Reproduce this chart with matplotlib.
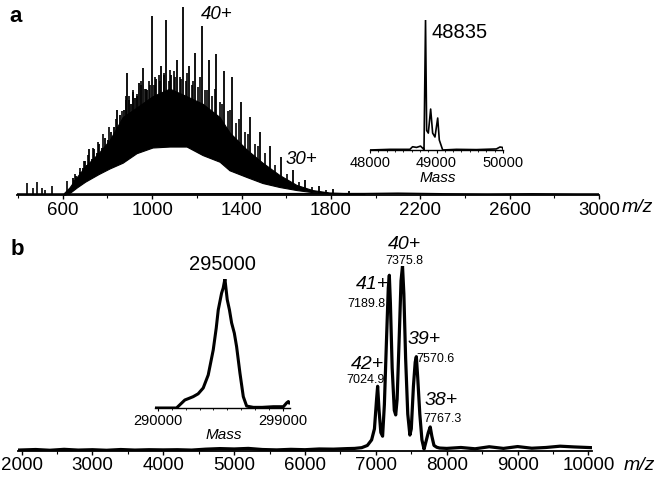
import numpy as np
import matplotlib
matplotlib.use("Agg")
import matplotlib.pyplot as plt
from matplotlib.ticker import MultipleLocator, FixedLocator

plt.rcParams['font.family'] = ['Liberation Sans', 'DejaVu Sans']

# --- panel a: charge-state peaks (m/z, relative intensity) ---
peak_mz = [644, 652, 661, 670, 679, 689, 699, 709, 719, 730, 741, 752, 764, 776,
           789, 802, 815, 829, 843, 858, 873, 889, 905, 922, 940, 958, 978, 998,
           1018, 1040, 1063, 1086, 1111, 1137, 1164, 1192, 1222, 1253, 1286, 1321,
           1358, 1396, 1437, 1481, 1527, 1576, 1629, 1685, 1745, 1810, 1879]
peak_int = [9, 8, 10, 9, 12, 14, 18, 16, 24, 19, 24, 22, 27, 25,
            30, 29, 33, 36, 45, 42, 45, 64, 48, 51, 59, 67, 55, 94,
            61, 68, 92, 63, 71, 99, 68, 75, 89, 71, 74, 65,
            62, 49, 41, 33, 26, 20, 13, 8, 5, 3, 2]

# secondary (adduct) peaks inside the envelope
sat_mz = [656, 675, 694, 714, 735, 758, 782, 808, 836,
          866, 881, 897, 914, 931, 949, 968, 988, 1008, 1029, 1051, 1074, 1098,
          1124, 1150, 1178, 1207, 1237, 1270, 1303, 1339, 1377, 1417, 1459, 1504, 1552,
          1603, 1656, 1714, 1776]
sat_int = [11, 14, 18, 21, 25, 28, 32, 36, 40,
           44, 50, 52, 54, 53, 58, 56, 60, 58, 63, 64, 60, 65,
           62, 60, 58, 57, 55, 52, 49, 44, 38, 33, 27, 22, 16,
           11, 7, 4, 2.5]
sat2_mz = [882, 898, 915, 933, 951, 971, 991, 1011, 1033, 1055, 1079, 1104, 1130,
           1157, 1185, 1215, 1246, 1279, 1313, 1350, 1389, 1430, 1473]
sat2_int = [52, 50, 55, 52, 60, 56, 58, 62, 60, 63, 66, 62, 61,
            64, 60, 62, 55, 56, 48, 45, 40, 32, 26]

# low-mass spikes before the envelope
low_mz = [439, 466, 484, 506, 519, 551, 618]
low_int = [6.3, 3.7, 6.8, 3.7, 2.6, 4.7, 7.4]

# unresolved envelope: lower (valley) and upper edge
hump_mz = [605, 630, 663, 700, 760, 810, 868, 930, 1002, 1078, 1154, 1226, 1302,
           1346, 1422, 1494, 1570, 1646, 1717, 1793, 1860, 1950]
hump_low = [0, 1, 4, 7, 11, 14, 17, 22, 25, 25.5, 25.5, 21, 17.5,
            13, 9.5, 6.3, 4.2, 2.6, 1.5, 1, 0.8, 0.5]
hump_high = [1, 4, 9.5, 15, 22, 29, 41, 46, 52, 56, 52, 48, 41,
             33, 24, 17, 10.5, 5.3, 2.6, 1.3, 1, 0.7]

base_a_mz = [395, 600, 1950, 2100, 2300, 2500, 2700, 2900, 3000]
base_a_int = [0.5, 0.5, 0.7, 0.9, 0.6, 0.5, 0.6, 0.5, 0.5]

# --- inset a: deconvoluted mass ---
ins_a_mass = [48000, 48300, 48600, 48640, 48700, 48760, 48800, 48812, 48835, 48852,
              48877, 48912, 48942, 48977, 49018, 49042, 49093, 49300, 49600, 49900,
              49955, 49990, 50000]
ins_a_int = [0, 0.5, 0.5, 2.5, 2, 3, 1, 0, 100, 15,
             13, 31.5, 13, 10, 24.6, 7.7, 0, 0.5, 0.3, 0.8,
             2.3, 2, 0.5]

# --- panel b: m/z spectrum ---
b_mz = [1950, 2200, 2400, 2600, 2800, 3000, 3200, 3400, 3600, 3800, 4000, 4200,
        4400, 4600, 4800, 5000, 5200, 5400, 5600, 5800, 6000, 6200, 6400, 6600,
        6700, 6800, 6880, 6940, 6980, 7010, 7025, 7045, 7070, 7095, 7120, 7150,
        7175, 7190, 7205, 7230, 7260, 7280, 7300, 7330, 7355, 7376, 7395, 7420,
        7450, 7480, 7500, 7530, 7555, 7571, 7590, 7620, 7650, 7680, 7700, 7740,
        7767, 7790, 7820, 7860, 7900, 8000, 8200, 8400, 8600, 8800, 9000, 9200,
        9400, 9600, 9800, 10050]
b_int = [0.5, 0.8, 0.4, 0.9, 0.5, 0.7, 0.4, 0.8, 0.5, 0.7, 0.6, 0.7,
         0.5, 1.0, 1.3, 1.1, 1.4, 0.8, 0.6, 0.9, 0.7, 1.1, 1.0, 1.3,
         1.4, 1.8, 3.0, 6, 12, 28, 35, 22, 10, 8, 25, 60,
         88, 95, 80, 45, 22, 19.5, 28, 62, 92, 100, 85, 50,
         20, 8.6, 12, 35, 48, 51, 40, 20, 6, 1, 4, 10,
         13, 8, 3, 2.0, 1.6, 1.4, 1.9, 1.2, 2.3, 1.4, 2.4, 1.5,
         1.9, 2.6, 2.2, 1.8]

ion_labels = ['42+', '41+', '40+', '39+', '38+']
ion_values = ['7024.9', '7189.8', '7375.8', '7570.6', '7767.3']
ion_lab_mz = [6876, 6947, 7399, 7682, 7922]
ion_lab_int = [47, 90, 111.5, 60.5, 27.2]
ion_val_mz = [6848, 6862, 7399, 7837, 7936]
ion_val_int = [38.5, 79.5, 102.5, 49.5, 17.2]

# --- inset b: deconvoluted mass ---
ins_b_mass = [289800, 291346, 291944, 292250, 292544, 292900, 293264, 293624, 293984,
              294200, 294344, 294584, 294700, 294824, 294990, 295150, 295304, 295500,
              295664, 295904, 296144, 296384, 296864, 297500, 298303, 299023, 299263,
              299383, 299450]
ins_b_int = [0, 0, 6.2, 7.5, 8.8, 11, 15.5, 25.6, 45,
             62, 76, 89, 93, 100, 84, 76, 66, 58,
             47.5, 27, 8.8, 1.5, 0.5, 0.5, 1, 1, 4,
             5, 4]


def style_axis(ax, lw):
    for s in ('left', 'right', 'top'):
        ax.spines[s].set_visible(False)
    ax.spines['bottom'].set_linewidth(lw)
    ax.set_yticks([])
    ax.patch.set_alpha(0)


fig = plt.figure(figsize=(6.6, 4.82), dpi=100)

# panel a
ax_a = fig.add_axes([17 / 660, 1 - 195 / 482, 582 / 660, 190 / 482])
ax_a.fill_between(hump_mz, hump_low, hump_high, color='black', lw=0.8)
base_pk = np.interp(peak_mz, hump_mz, hump_low, left=0, right=0.5)
ax_a.vlines(peak_mz, base_pk, peak_int, color='black', lw=1.3)
base_sat = np.interp(sat_mz, hump_mz, hump_low)
ax_a.vlines(sat_mz, base_sat, sat_int, color='black', lw=1.2)
base_sat2 = np.interp(sat2_mz, hump_mz, hump_low)
ax_a.vlines(sat2_mz, base_sat2, sat2_int, color='black', lw=1.2)
ax_a.vlines(low_mz, 0, low_int, color='black', lw=1.2)
ax_a.plot(base_a_mz, base_a_int, color='black', lw=1.2)
ax_a.set_xlim(395, 3000)
ax_a.set_ylim(0, 100)
style_axis(ax_a, 1.3)
ax_a.xaxis.set_major_locator(FixedLocator([600, 1000, 1400, 1800, 2200, 2600, 3000]))
ax_a.xaxis.set_minor_locator(MultipleLocator(200))
ax_a.tick_params(axis='x', which='major', length=3, width=1, pad=2, labelsize=13.5)
ax_a.tick_params(axis='x', which='minor', length=2, width=0.8)
ax_a.text(1288, 95, '40+', style='italic', fontsize=13.5, ha='center', va='center')
ax_a.text(1668, 18.7, '30+', style='italic', fontsize=13.5, ha='center', va='center')
ax_a.text(3102, -6.5, 'm/z', style='italic', fontsize=14, ha='left', va='center',
          clip_on=False)

# inset a
ax_ia = fig.add_axes([370 / 660, 1 - 150 / 482, 133 / 660, 130 / 482])
ax_ia.plot(ins_a_mass, ins_a_int, color='black', lw=1.2)
ax_ia.set_xlim(48000, 50000)
ax_ia.set_ylim(0, 100)
style_axis(ax_ia, 1.0)
ax_ia.set_xticks([48000, 49000, 50000])
ax_ia.xaxis.set_minor_locator(MultipleLocator(125))
ax_ia.tick_params(axis='x', which='major', length=2.5, width=0.8, pad=2, labelsize=10.5)
ax_ia.tick_params(axis='x', which='minor', length=1.5, width=0.6)
ax_ia.text(49353, 90.4, '48835', fontsize=14.5, ha='center', va='center')
ax_ia.text(49015, -21.9, 'Mass', style='italic', fontsize=11, ha='center', va='center',
           clip_on=False)

# panel b
ax_b = fig.add_axes([18 / 660, 1 - 451 / 482, 574 / 660, 185 / 482])
ax_b.plot(b_mz, b_int, color='black', lw=2.3)
ax_b.set_xlim(1950, 10050)
ax_b.set_ylim(0, 100)
style_axis(ax_b, 1.3)
ax_b.xaxis.set_major_locator(MultipleLocator(1000))
ax_b.xaxis.set_minor_locator(MultipleLocator(500))
ax_b.tick_params(axis='x', which='major', length=3, width=1, pad=1, labelsize=13.5)
ax_b.tick_params(axis='x', which='minor', length=2, width=0.8)
for lab, x, y in zip(ion_labels, ion_lab_mz, ion_lab_int):
    ax_b.text(x, y, lab, style='italic', fontsize=14, ha='center', va='center',
              clip_on=False)
for lab, x, y in zip(ion_values, ion_val_mz, ion_val_int):
    ax_b.text(x, y, lab, fontsize=9, ha='center', va='center', clip_on=False)
ax_b.text(10495, -7.6, 'm/z', style='italic', fontsize=14, ha='left', va='center',
          clip_on=False)

# inset b
ax_ib = fig.add_axes([155 / 660, 1 - 408 / 482, 135 / 660, 129 / 482])
ax_ib.plot(ins_b_mass, ins_b_int, color='black', lw=2.2)
ax_ib.set_xlim(289800, 299500)
ax_ib.set_ylim(0, 100)
style_axis(ax_ib, 1.0)
ax_ib.set_xticks([290000, 299000])
ax_ib.xaxis.set_minor_locator(MultipleLocator(1000))
ax_ib.tick_params(axis='x', which='major', length=2.5, width=0.8, pad=2, labelsize=10.5)
ax_ib.tick_params(axis='x', which='minor', length=1.5, width=0.6)
ax_ib.text(294644, 111, '295000', fontsize=14.5, ha='center', va='center', clip_on=False)
ax_ib.text(294752, -21.3, 'Mass', style='italic', fontsize=11, ha='center', va='center',
           clip_on=False)

fig.text(16 / 660, 1 - 17 / 482, 'a', fontsize=16, fontweight='bold', ha='center', va='center')
fig.text(17 / 660, 1 - 249 / 482, 'b', fontsize=16, fontweight='bold', ha='center', va='center')

fig.savefig('out.png', dpi=100)
